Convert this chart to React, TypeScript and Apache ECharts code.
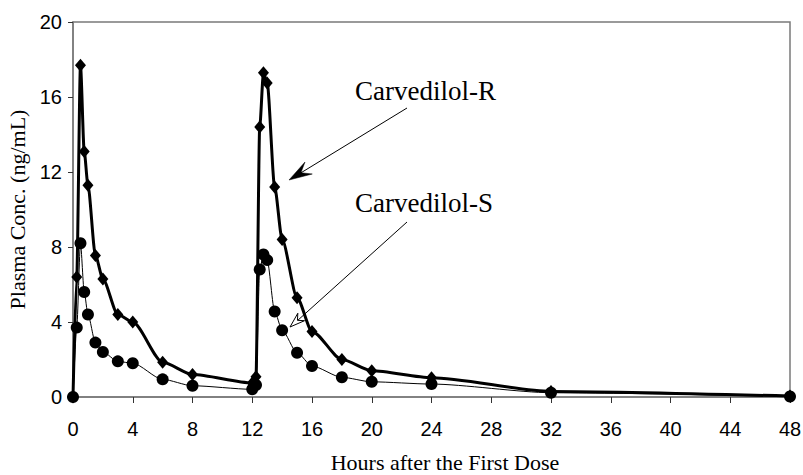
import React, { useEffect, useRef } from "react";
import * as echarts from "echarts";

const hours = [0, 0.25, 0.5, 0.75, 1, 1.5, 2, 3, 4, 6, 8, 12, 12.25, 12.5, 12.75, 13, 13.5, 14, 15, 16, 18, 20, 24, 32, 48];
const carvedilolR = [0, 6.4, 17.7, 13.1, 11.3, 7.55, 6.3, 4.4, 4.0, 1.85, 1.2, 0.75, 1.08, 14.4, 17.3, 16.75, 11.2, 8.4, 5.3, 3.5, 2.0, 1.4, 1.03, 0.3, 0.05];
const carvedilolS = [0, 3.7, 8.2, 5.6, 4.4, 2.9, 2.4, 1.9, 1.8, 0.94, 0.6, 0.41, 0.64, 6.8, 7.6, 7.3, 4.56, 3.56, 2.36, 1.65, 1.05, 0.81, 0.69, 0.23, 0.03];
const xTicks = { min: 0, max: 48, interval: 4 };
const yTicks = { min: 0, max: 20, interval: 4 };
const seriesNames = ["Carvedilol-R", "Carvedilol-S"];

const SERIF = "'Liberation Serif', 'Times New Roman', serif";
const SANS = "'Liberation Sans', Arial, sans-serif";
const AXIS_GRAY = "#7a7a7a";

function stealth(tipX: number, tipY: number, fromX: number, fromY: number, len: number, half: number, notch: number) {
  const dx = tipX - fromX;
  const dy = tipY - fromY;
  const l = Math.hypot(dx, dy);
  const ux = dx / l;
  const uy = dy / l;
  const nx = -uy;
  const ny = ux;
  const bx = tipX - ux * len;
  const by = tipY - uy * len;
  const ix = tipX - ux * notch;
  const iy = tipY - uy * notch;
  return [
    [tipX, tipY],
    [bx + nx * half, by + ny * half],
    [ix, iy],
    [bx - nx * half, by - ny * half],
  ];
}

export default function App() {
  const ref = useRef<HTMLDivElement>(null);

  useEffect(() => {
    if (!ref.current) return;
    const chart = echarts.init(ref.current, undefined, { renderer: "svg" });
    const rData = hours.map((h, i) => [h, carvedilolR[i]]);
    const sData = hours.map((h, i) => [h, carvedilolS[i]]);

    const rFrom = [407, 108];
    const rTip = [289, 180];
    const sFrom = [407, 222];
    const sTip = [290, 327];

    chart.setOption({
      animation: false,
      backgroundColor: "#ffffff",
      grid: {
        left: 73,
        right: 13,
        top: 22,
        bottom: 78,
        containLabel: false,
        outerBoundsMode: "none",
        show: true,
        borderColor: AXIS_GRAY,
        borderWidth: 1.5,
        backgroundColor: "transparent",
      },
      xAxis: {
        type: "value",
        min: xTicks.min,
        max: xTicks.max,
        interval: xTicks.interval,
        axisLine: { show: true, onZero: false, lineStyle: { color: AXIS_GRAY, width: 1.5 } },
        axisTick: { show: true, inside: false, length: 6, lineStyle: { color: "#333", width: 1 } },
        splitLine: { show: false },
        axisLabel: { color: "#000", fontFamily: SANS, fontSize: 20, margin: 22 },
      },
      yAxis: {
        type: "value",
        min: yTicks.min,
        max: yTicks.max,
        interval: yTicks.interval,
        name: "Plasma Conc. (ng/mL)",
        nameLocation: "middle",
        nameGap: 42,
        nameTextStyle: { color: "#000", fontFamily: SERIF, fontSize: 22 },
        axisLine: { show: true, lineStyle: { color: AXIS_GRAY, width: 1.5 } },
        axisTick: { show: true, inside: false, length: 5, lineStyle: { color: "#333", width: 1 } },
        splitLine: { show: false },
        axisLabel: { color: "#000", fontFamily: SANS, fontSize: 20, margin: 11 },
      },
      series: [
        {
          name: seriesNames[0],
          type: "line",
          data: rData,
          smooth: 0.25,
          smoothMonotone: "x",
          symbol: "diamond",
          symbolSize: [11, 13],
          showAllSymbol: true,
          lineStyle: { color: "#000", width: 3 },
          itemStyle: { color: "#000" },
          z: 2,
        },
        {
          name: seriesNames[1],
          type: "line",
          data: sData,
          smooth: 0.25,
          smoothMonotone: "x",
          symbol: "circle",
          symbolSize: 12,
          showAllSymbol: true,
          lineStyle: { color: "#000", width: 1 },
          itemStyle: { color: "#000" },
          z: 3,
        },
      ],
      graphic: [
        {
          type: "text",
          style: {
            x: 445,
            y: 462,
            text: "Hours after the First Dose",
            fill: "#000",
            font: `22px ${SERIF}`,
            textAlign: "center",
            textVerticalAlign: "middle",
          },
        },
        {
          type: "text",
          style: {
            x: 355,
            y: 91,
            text: seriesNames[0],
            fill: "#000",
            font: `27px ${SERIF}`,
            textAlign: "left",
            textVerticalAlign: "middle",
          },
        },
        {
          type: "text",
          style: {
            x: 355,
            y: 203,
            text: seriesNames[1],
            fill: "#000",
            font: `27px ${SERIF}`,
            textAlign: "left",
            textVerticalAlign: "middle",
          },
        },
        {
          type: "line",
          shape: { x1: rFrom[0], y1: rFrom[1], x2: rTip[0] + 10, y2: rTip[1] - 6 },
          style: { stroke: "#000", lineWidth: 1 },
        },
        {
          type: "polygon",
          shape: { points: stealth(rTip[0], rTip[1], rFrom[0], rFrom[1], 23, 7, 14) },
          style: { fill: "#000", stroke: "#000", lineWidth: 0.5 },
        },
        {
          type: "line",
          shape: { x1: sFrom[0], y1: sFrom[1], x2: sTip[0] + 7, y2: sTip[1] - 6 },
          style: { stroke: "#000", lineWidth: 1 },
        },
        {
          type: "polygon",
          shape: { points: stealth(sTip[0], sTip[1], sFrom[0], sFrom[1], 15, 5, 10) },
          style: { fill: "#fff", stroke: "#000", lineWidth: 1 },
        },
      ],
    });
    return () => chart.dispose();
  }, []);

  return (
    <div
      ref={ref}
      style={{ position: "fixed", left: 0, top: 0, width: 803, height: 475, background: "#fff" }}
    />
  );
}
